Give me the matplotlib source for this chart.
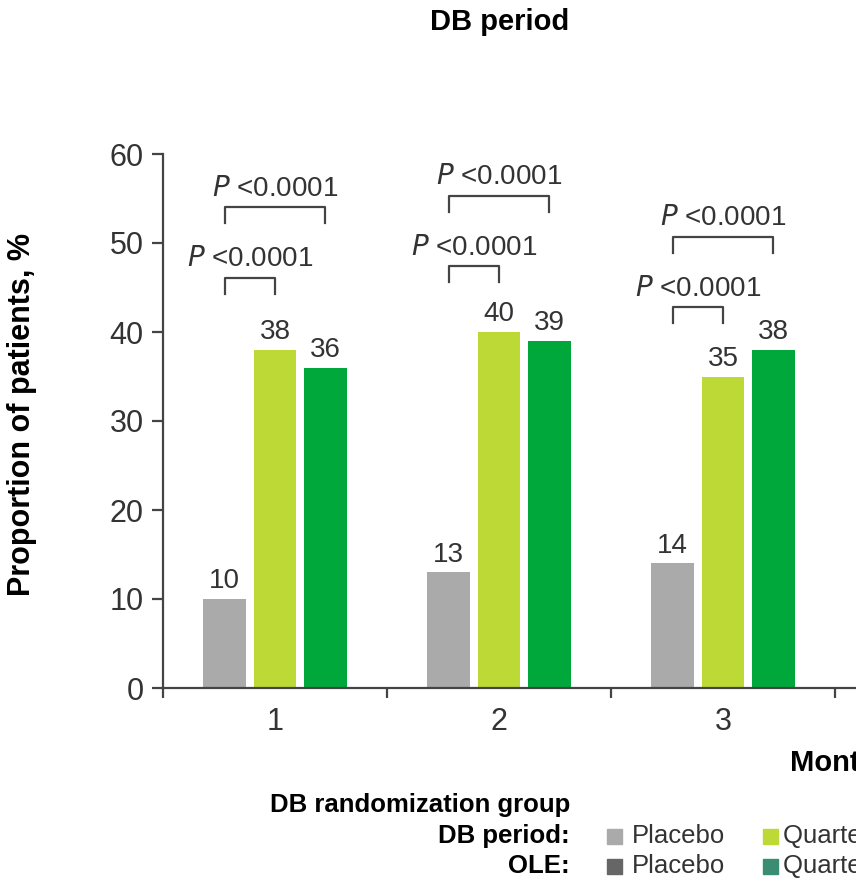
import matplotlib
matplotlib.use('Agg')
import matplotlib.pyplot as plt
from matplotlib.patches import Rectangle

plt.rcParams['font.family'] = ['Liberation Sans', 'DejaVu Sans']

# 数据
months = [1, 2, 3]
month_labels = ['1', '2', '3']
placebo = [10, 13, 14]
quarterly = [38, 40, 35]
monthly = [36, 39, 38]
# P 值标注: (月份, 短括号高度, 长括号高度)
brackets = [(1, 46.1, 54.0), (2, 47.4, 55.3), (3, 42.8, 50.7)]
p_text = '$P$ <0.0001'

c_placebo = '#aaaaaa'
c_quarterly = '#bcd935'
c_monthly = '#00a83c'
c_ole_placebo = '#666666'
c_ole_drug = '#3a8c72'
c_text = '#333333'
c_line = '#444444'

fig = plt.figure(figsize=(8.56, 8.83), dpi=100)
ax = fig.add_axes([163 / 856, 195 / 883, 1 - 163 / 856, 534 / 883])

off = 0.225
w = 0.19
xs = [m - off for m in months]
xq = [m for m in months]
xm = [m + off for m in months]
ax.bar(xs, placebo, width=w, color=c_placebo)
ax.bar(xq, quarterly, width=w, color=c_quarterly)
ax.bar(xm, monthly, width=w, color=c_monthly)

for xx, vals in [(xs, placebo), (xq, quarterly), (xm, monthly)]:
    for x, v in zip(xx, vals):
        ax.text(x, v + 1.2, str(v), ha='center', va='baseline', fontsize=20, color=c_text)

# 括号
leg = 1.8
for m, h1, h2 in brackets:
    ax.plot([m - off, m - off, m, m], [h1 - leg, h1, h1, h1 - leg], color=c_line, lw=1.6)
    ax.text(m - off / 2, h1 + 1.3, p_text, ha='center', va='baseline', fontsize=20, color=c_text)
    ax.plot([m - off, m - off, m + off, m + off], [h2 - leg, h2, h2, h2 - leg], color=c_line, lw=1.6)
    ax.text(m, h2 + 1.3, p_text, ha='center', va='baseline', fontsize=20, color=c_text)

ax.set_xlim(0.5, 0.5 + (856 - 163) / 224)
ax.set_ylim(0, 60)
ax.set_yticks(range(0, 61, 10))
ax.set_xticks(months)
ax.set_xticklabels(month_labels)
ax.set_xticks([0.5, 1.5, 2.5, 3.5], minor=True)
ax.tick_params(axis='x', which='major', length=0, labelsize=22, pad=14, colors=c_text)
ax.tick_params(axis='x', which='minor', length=7, width=1.6, direction='out', color=c_line)
ax.tick_params(axis='y', length=8, width=1.6, labelsize=22, colors=c_text, pad=6)
ax.tick_params(axis='y', color=c_line)
for s in ['top', 'right']:
    ax.spines[s].set_visible(False)
for s in ['left', 'bottom']:
    ax.spines[s].set_linewidth(1.6)
    ax.spines[s].set_color(c_line)

fig.text(22 / 856, 1 - 415 / 883, 'Proportion of patients, %', rotation=90, ha='center', va='center',
         fontsize=22, fontweight='bold')
fig.text(500 / 856, 1 - 22 / 883, 'DB period', ha='center', va='center', fontsize=21, fontweight='bold')
fig.text(790 / 856, 1 - 763 / 883, 'Months', ha='left', va='center', fontsize=21, fontweight='bold')

# 图例
fig.text(570 / 856, 1 - 805 / 883, 'DB randomization group', ha='right', va='center', fontsize=18.5,
         fontweight='bold')
rows = [('DB period:', 836, c_placebo, c_quarterly), ('OLE:', 866, c_ole_placebo, c_ole_drug)]
for lab, y, ca, cb in rows:
    yf = 1 - y / 883
    fig.text(570 / 856, yf, lab, ha='right', va='center', fontsize=18.5, fontweight='bold')
    fig.patches.append(Rectangle((607 / 856, yf - 7.5 / 883), 15 / 856, 15 / 883, color=ca,
                                 transform=fig.transFigure, figure=fig))
    fig.text(632 / 856, yf, 'Placebo', ha='left', va='center', fontsize=18.5, color=c_text)
    fig.patches.append(Rectangle((763 / 856, yf - 7.5 / 883), 15 / 856, 15 / 883, color=cb,
                                 transform=fig.transFigure, figure=fig))
    fig.text(783 / 856, yf, 'Quarterly fremanezumab', ha='left', va='center', fontsize=18.5, color=c_text)

fig.savefig('out.png', dpi=100)
